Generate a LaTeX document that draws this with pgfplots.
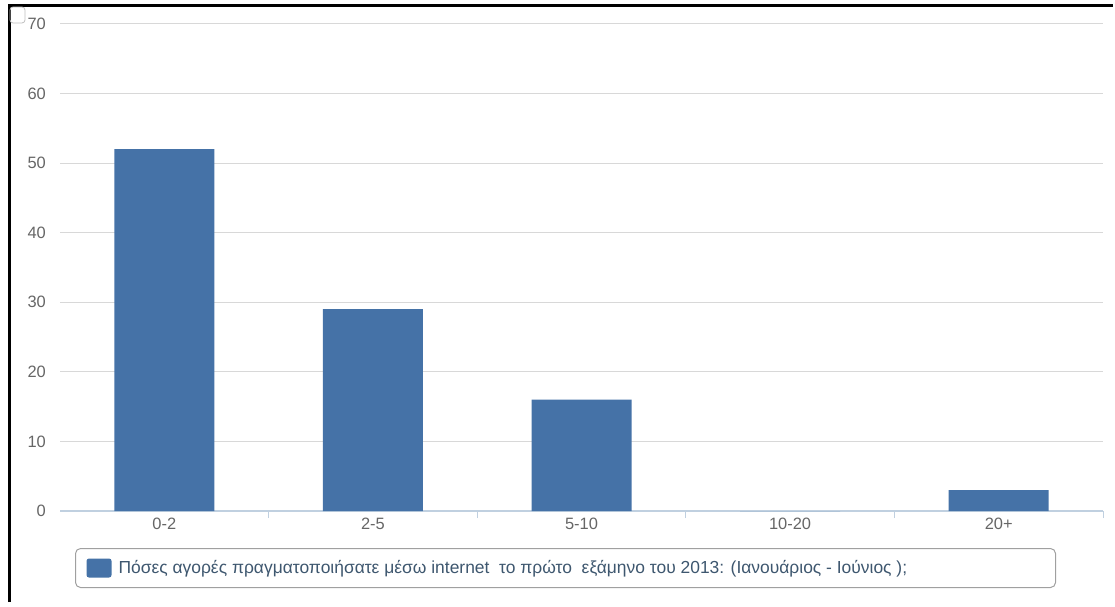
\documentclass[border=0pt]{standalone}
\usepackage{pgfplots}
\pgfplotsset{compat=1.18}
\usetikzlibrary{calc}
\usepackage{fontspec}
\setmainfont{Liberation Sans}
\definecolor{barblue}{HTML}{4572A7}
\definecolor{gridgray}{HTML}{D8D8D8}
\definecolor{axisgray}{HTML}{C0D0E0}
\definecolor{ticktext}{HTML}{666666}
\definecolor{legtext}{HTML}{3E576F}
\definecolor{legborder}{HTML}{A0A0A0}
\begin{document}
\begin{tikzpicture}
\begin{axis}[
  scale only axis, width=1043bp, height=487bp,
  xmin=-0.5, xmax=4.5, ymin=0, ymax=70,
  ybar, bar width=100bp,
  xtick={0,1,2,3,4}, xticklabels={0-2,2-5,5-10,10-20,20+},
  ytick={0,10,20,30,40,50,60,70},
  major tick length=0pt,
  extra x ticks={0.5,1.5,2.5,3.5,4.5}, extra x tick labels={},
  extra x tick style={major tick length=7bp, tick align=outside, grid=none,
     tick style={axisgray, line width=1bp}},
  axis x line*=bottom, axis y line*=left,
  x axis line style={axisgray, line width=1.2bp, -},
  y axis line style={draw=none},
  ymajorgrids, grid style={gridgray, line width=1bp},
  /pgf/number format/assume math mode=true,
  yticklabel style={font=\fontsize{16.5}{16.5}\selectfont, text=ticktext, anchor=east, inner sep=0pt, xshift=-14bp},
  xticklabel style={font=\fontsize{16.5}{16.5}\selectfont, text=ticktext, anchor=north, inner sep=0pt, yshift=-7bp},
  legend style={at={(0.0144,-0.076)}, anchor=north west, draw=legborder, rounded corners=5bp,
     line width=1bp, inner xsep=11bp, inner ysep=10bp,
     font=\fontsize{17.5}{17.5}\selectfont, text=legtext,
     nodes={inner sep=0pt}, /tikz/column sep=7bp},
  legend cell align=left,
]
\addplot[fill=barblue, draw=none,
  legend image code/.code={\fill[barblue, rounded corners=2.5bp] (0bp,-9.5bp) rectangle (25bp,9.5bp);}]
  coordinates {(0,52) (1,29) (2,16) (3,0) (4,3)};
\addlegendentry{\makebox[926bp][l]{Πόσες αγορές πραγματοποιήσατε μέσω internet\ \ το πρώτο\ \ εξάμηνο του 2013: (Ιανουάριος - Ιούνιος );}}
\coordinate (O) at (rel axis cs:0,0);
\end{axis}
\pgfresetboundingbox
\path[use as bounding box] ($(O)+(-60bp,-96bp)$) rectangle ($(O)+(1055bp,511bp)$);
\draw[line width=3bp] ($(O)+(-50.5bp,-91bp)$) -- ($(O)+(-50.5bp,505.5bp)$) -- ($(O)+(1053bp,505.5bp)$);
\draw[black!25, rounded corners=3bp, line width=0.8bp] ($(O)+(-50bp,488bp)$) rectangle ($(O)+(-35bp,504bp)$);
\end{tikzpicture}
\end{document}
